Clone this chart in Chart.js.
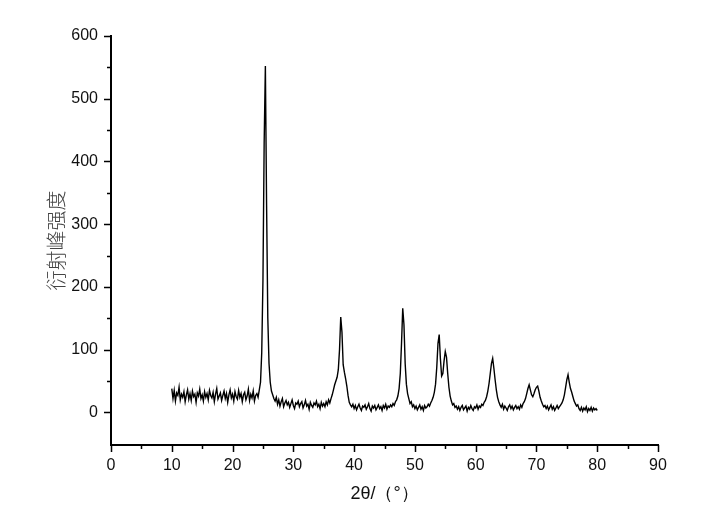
<!DOCTYPE html>
<html>
<head>
<meta charset="utf-8">
<script src="https://cdn.jsdelivr.net/npm/chart.js@4/dist/chart.umd.min.js"></script>
<style>
  body { margin: 0; background: #fff; }
  #wrap { width: 712px; height: 522px; }
</style>
</head>
<body>
<div id="wrap"><canvas id="xrdChart" width="712" height="522"></canvas></div>
<script>
// ==== DỮ LIỆU XRD ====
// bước quét cố định 0.2°, bắt đầu từ 10°
const startAngle = 10;
const stepAngle = 0.2;

const intensity = [
    // 10.0 - 23.8
    38, 22, 35, 18, 31, 27, 40, 20, 29, 24,
    33, 17, 28, 36, 21, 30, 19, 34, 25, 29,
    16, 31, 26, 37, 22, 28, 18, 33, 24, 30,
    20, 35, 27, 23, 32, 17, 29, 38, 21, 26,
    31, 19, 27, 34, 22, 30, 16, 28, 36, 23,
    29, 18, 33, 25, 21, 35, 24, 30, 17, 28,
    32, 20, 26, 37, 19, 29, 23, 34, 18, 27,
    // 24.0 - 24.4
    30, 24, 36,
    // 24.6 - 26.8 (đỉnh chính)
    48, 95, 210, 430, 552, 330, 150, 78, 48, 34, 28, 22,
    // 27.0 - 35.8
    18, 24, 13, 20, 10, 17, 22, 9, 15, 19,
    12, 16, 8, 14, 20, 11, 6, 15, 13, 18,
    9, 14, 17, 7, 12, 19, 10, 13, 5, 16,
    11, 8, 15, 12, 18, 9, 13, 6, 16, 10,
    14, 9, 17, 12, 20,
    // 36.0 - 39.8
    15, 22, 28, 36, 44, 50, 56, 68, 100, 152,
    128, 76, 64, 54, 42, 27, 16, 12, 9, 13,
    // 40.0 - 46.8
    6, 11, 4, 9, 13, 7, 3, 10, 8, 12,
    5, 9, 14, 6, 2, 10, 7, 11, 4, 8,
    12, 6, 9, 3, 11, 7, 13, 5, 10, 8,
    12, 9, 14, 11, 17,
    // 47.0 - 49.8
    20, 26, 38, 62, 110, 166, 140, 78, 45, 30, 22, 14, 17, 9, 12,
    // 50.0 - 52.8
    6, 10, 4, 8, 12, 5, 9, 3, 11, 7,
    9, 13, 10, 15, 19,
    // 53.0 - 56.6 (đỉnh đôi)
    24, 32, 45, 72, 110, 124, 85, 58, 62, 82, 97, 88, 62, 40, 26, 18, 12, 14, 8,
    // 56.8 - 61.4
    10, 5, 9, 3, 8, 11, 4, 7, 10, 2, 8, 5, 11, 6, 3, 9, 7, 12, 5, 10, 8, 13, 11, 16,
    // 61.6 - 64.0
    19, 25, 34, 46, 62, 78, 86, 70, 52, 36, 24, 17, 12,
    // 64.2 - 68.0
    8, 13, 5, 10, 7, 3, 9, 12, 6, 10, 4, 8, 11, 6, 9, 5, 12, 8, 14, 17,
    // 68.2 - 71.4
    22, 30, 38, 44, 36, 28, 25, 30, 36, 40, 42, 34, 24, 18, 13, 9, 11,
    // 71.6 - 74.2
    6, 10, 4, 8, 12, 5, 9, 3, 7, 11, 6, 9, 12, 15,
    // 74.4 - 76.8
    20, 28, 40, 52, 60, 48, 38, 32, 25, 18, 14, 10, 12,
    // 77.0 - 80.0
    6, 3, 8, 2, 7, 4, 9, 1, 6, 3, 8, 2, 7, 4, 6, 3,
];

const xTitle = "2θ/（°）";
const yTitle = "衍射峰强度";
const xTicks = [0, 10, 20, 30, 40, 50, 60, 70, 80, 90];
const yTicks = [0, 100, 200, 300, 400, 500, 600];

// ==== VẠCH CHIA PHỤ / CHÍNH ====
const tickMarks = {
    id: "tickMarks",
    afterDraw(chart) {
        const { ctx, scales } = chart;
        const xs = scales.x, ys = scales.y;
        ctx.save();
        ctx.strokeStyle = "#000";
        ctx.lineWidth = 1.5;
        ctx.beginPath();
        for (let v = 0; v <= 90; v += 5) {
            const px = Math.round(xs.getPixelForValue(v)) + 0.5;
            const len = v % 10 === 0 ? 7 : 4;
            ctx.moveTo(px, xs.top);
            ctx.lineTo(px, xs.top + len);
        }
        for (let v = 0; v <= 600; v += 50) {
            const py = Math.round(ys.getPixelForValue(v)) + 0.5;
            const len = v % 100 === 0 ? 7 : 4;
            ctx.moveTo(ys.right, py);
            ctx.lineTo(ys.right - len, py);
        }
        ctx.stroke();
        ctx.restore();
    },
};

const points = intensity.map((y, i) => ({ x: +(startAngle + i * stepAngle).toFixed(1), y }));

new Chart(document.getElementById("xrdChart"), {
    type: "line",
    data: {
        datasets: [{
            data: points,
            borderColor: "#000",
            borderWidth: 1.4,
            pointRadius: 0,
            tension: 0,
        }],
    },
    options: {
        responsive: false,
        animation: false,
        layout: { padding: { left: 44, top: 36, right: 54, bottom: 0 } },
        plugins: { legend: { display: false }, tooltip: { enabled: false } },
        scales: {
            x: {
                type: "linear",
                min: 0,
                max: 90,
                afterFit: (s) => { s.height = 77; },
                afterBuildTicks: (s) => { s.ticks = xTicks.map((v) => ({ value: v })); },
                grid: { display: false, drawTicks: false },
                border: { display: true, color: "#000", width: 2 },
                ticks: {
                    padding: 11,
                    color: "#111",
                    font: { family: "Liberation Sans, Arial", size: 16 },
                    maxRotation: 0,
                },
                title: {
                    display: true,
                    text: xTitle,
                    color: "#111",
                    font: { family: "Liberation Sans, Arial", size: 18 },
                    padding: { top: 0, bottom: 17 },
                },
            },
            y: {
                min: -52,
                max: 600,
                afterFit: (s) => { s.width = 67; },
                afterBuildTicks: (s) => { s.ticks = yTicks.map((v) => ({ value: v })); },
                grid: { display: false, drawTicks: false },
                border: { display: true, color: "#000", width: 2 },
                ticks: {
                    padding: 13,
                    color: "#111",
                    font: { family: "Liberation Sans, Arial", size: 16 },
                },
                title: {
                    display: true,
                    text: yTitle,
                    color: "#444",
                    font: { family: "Noto Sans CJK SC", size: 20, weight: "300" },
                    padding: { top: 0, bottom: 0 },
                },
            },
        },
    },
    plugins: [tickMarks],
});
</script>
</body>
</html>
